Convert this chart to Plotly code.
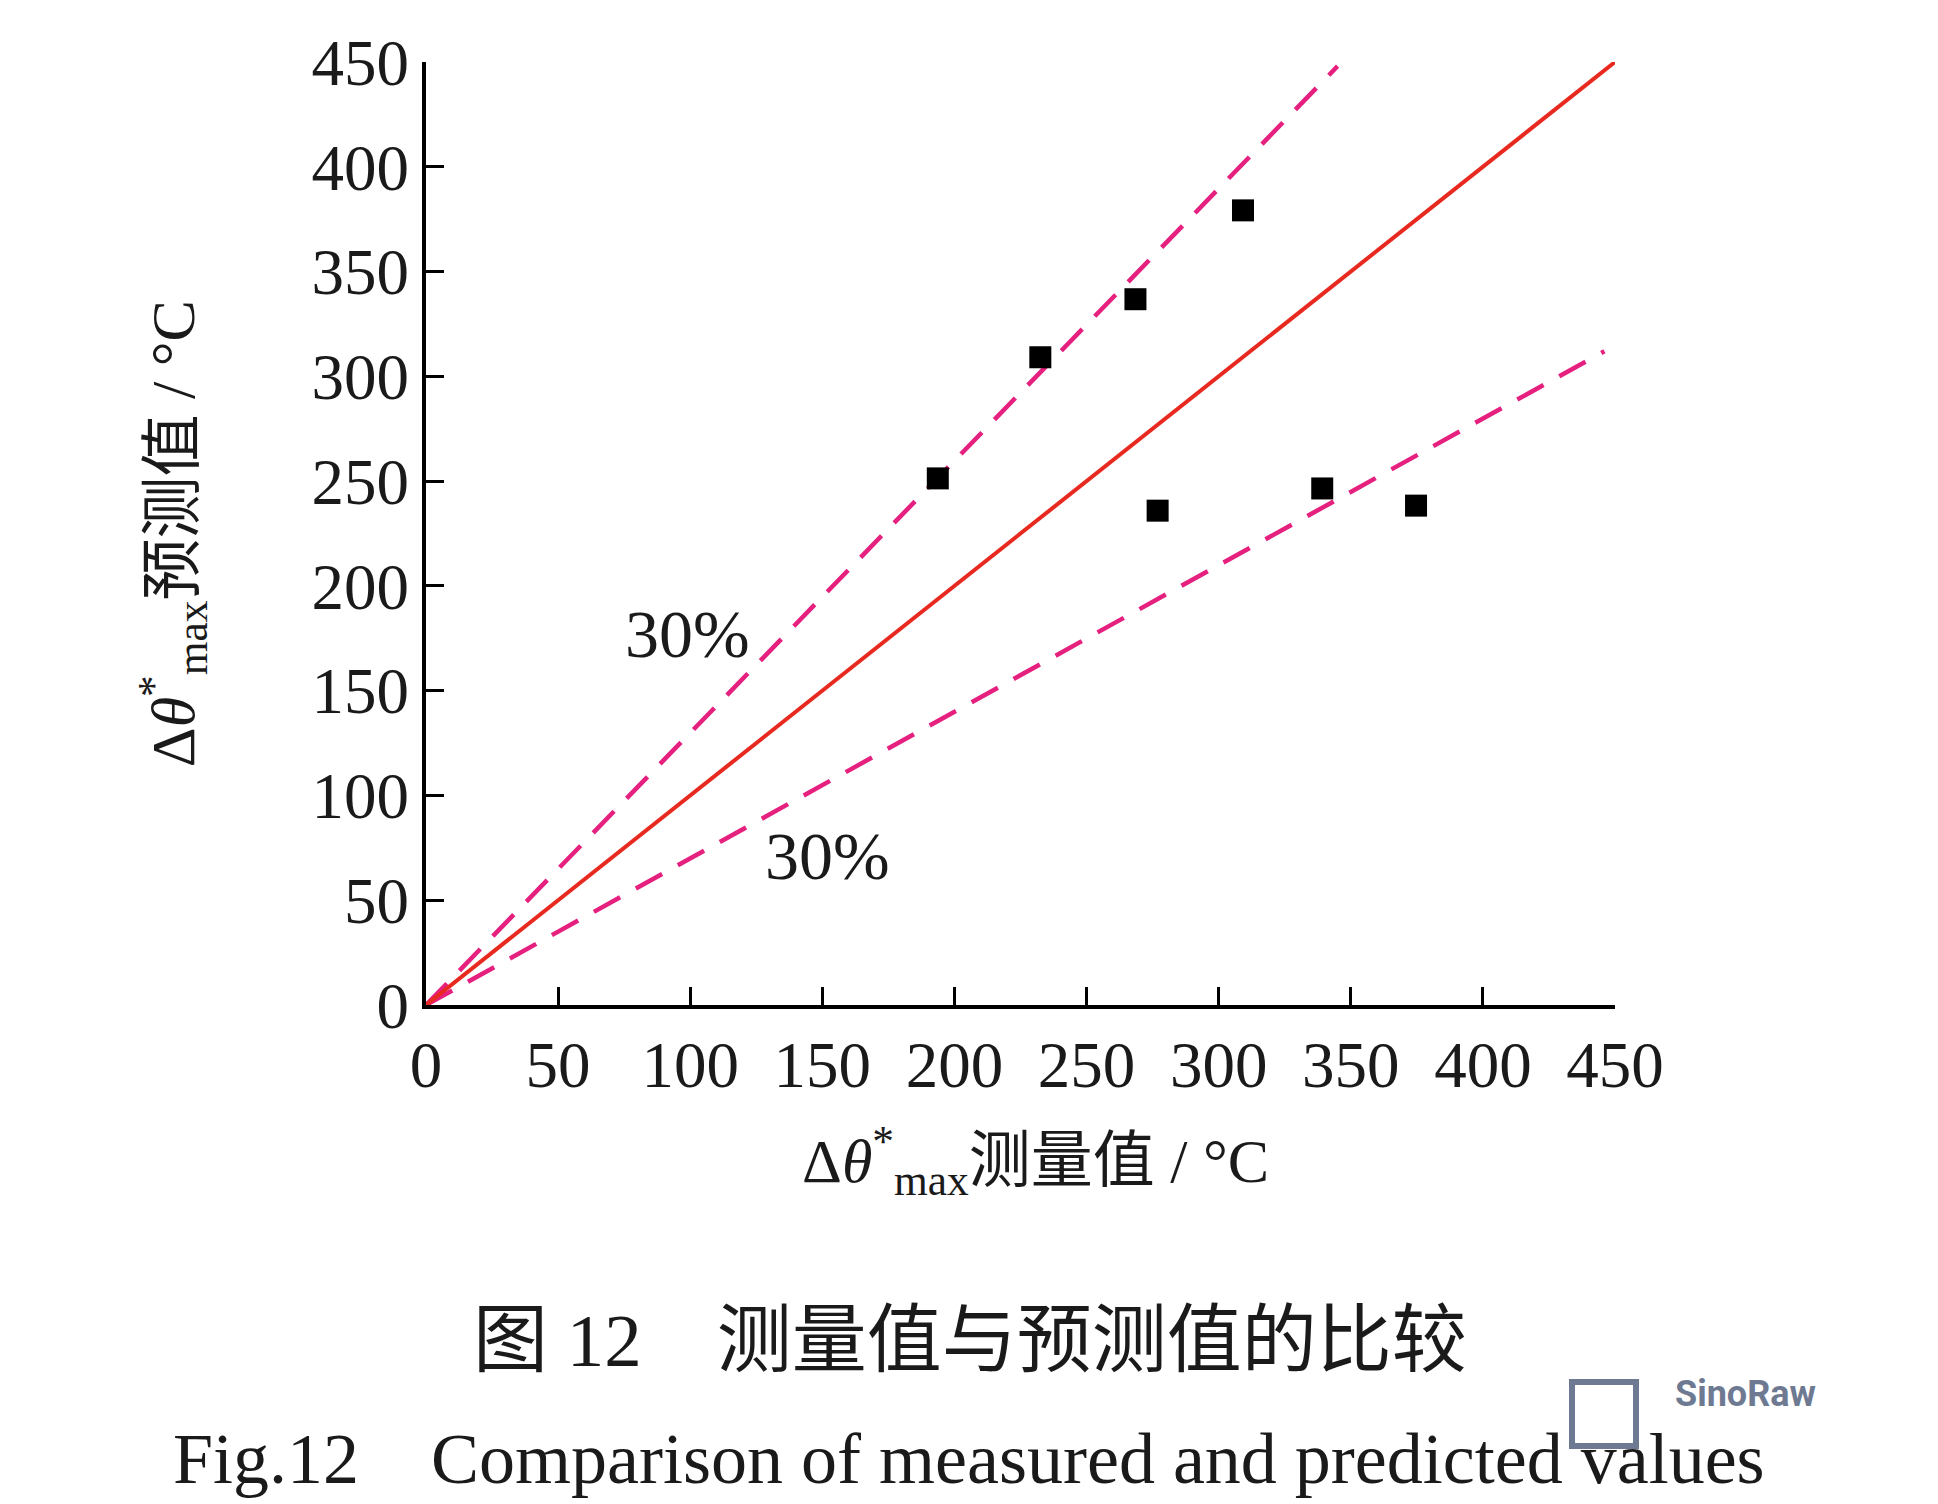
import plotly.graph_objects as go

# measured vs predicted values (°C)
measured = [193.7, 232.5, 268.5, 309.2, 276.9, 339.2, 374.7]
predicted = [251.3, 309.1, 336.8, 379.2, 235.9, 246.5, 238.3]

# reference line and ±30% bounds (end points)
ref_x = [0, 450]
ref_y = [0, 450]
upper_x = [0, 345]
upper_y = [0, 448]
lower_x = [0, 446]
lower_y = [0, 312]

tick_vals = [0, 50, 100, 150, 200, 250, 300, 350, 400, 450]
tick_text = [str(v) for v in tick_vals]

serif = "Liberation Serif, Times New Roman, Noto Sans CJK SC, serif"
pink = "#e5207e"
red = "#e8291f"

fig = go.Figure()
fig.add_trace(go.Scatter(x=upper_x, y=upper_y, mode="lines",
                         line=dict(color=pink, width=4.5, dash="30px,18px"),
                         showlegend=False, hoverinfo="skip"))
fig.add_trace(go.Scatter(x=lower_x, y=lower_y, mode="lines",
                         line=dict(color=pink, width=4.5, dash="30px,18px"),
                         showlegend=False, hoverinfo="skip"))
fig.add_trace(go.Scatter(x=ref_x, y=ref_y, mode="lines",
                         line=dict(color=red, width=4),
                         showlegend=False, hoverinfo="skip"))
fig.add_trace(go.Scatter(x=measured, y=predicted, mode="markers",
                         marker=dict(symbol="square", size=22, color="black"),
                         showlegend=False))

axis_common = dict(
    range=[0, 450], tickmode="array", tickvals=tick_vals, ticktext=tick_text,
    showgrid=False, zeroline=False, showline=True, linecolor="black", linewidth=4,
    ticks="inside", ticklen=18, tickwidth=3, tickcolor="black",
    tickfont=dict(family=serif, size=65, color="#1a1a1a"),
)
fig.update_xaxes(**axis_common)
fig.update_yaxes(**axis_common)

annotations = [
    dict(text="30%", x=99, y=177, xref="x", yref="y", showarrow=False,
         font=dict(family=serif, size=68, color="#1a1a1a")),
    dict(text="30%", x=152, y=71, xref="x", yref="y", showarrow=False,
         font=dict(family=serif, size=68, color="#1a1a1a")),
    dict(text="Δ<i>θ</i><sup>*</sup><sub>max</sub>测量值 / °C", x=0.513, y=-0.165,
         xref="paper", yref="paper", showarrow=False, xanchor="center", yanchor="middle",
         font=dict(family=serif, size=62, color="#1a1a1a")),
    dict(text="Δ<i>θ</i><sup>*</sup><sub>max</sub>预测值 / °C", x=-0.213, y=0.50,
         xref="paper", yref="paper", showarrow=False, xanchor="center", yanchor="middle",
         textangle=-90, font=dict(family=serif, size=62, color="#1a1a1a")),
    dict(text="图 12　测量值与预测值的比较", x=0.4575, y=-0.356,
         xref="paper", yref="paper", showarrow=False, xanchor="center", yanchor="middle",
         font=dict(family=serif, size=75, color="#1a1a1a")),
    dict(text="Fig.12　Comparison of measured and predicted values", x=0.4567, y=-0.481,
         xref="paper", yref="paper", showarrow=False, xanchor="center", yanchor="middle",
         font=dict(family=serif, size=72, color="#1a1a1a")),
    dict(text="<b>SinoRaw</b>", x=1.11, y=-0.412, xref="paper", yref="paper",
         showarrow=False, xanchor="center", yanchor="middle",
         font=dict(family="Roboto, sans-serif", size=36, color="#6e7a92")),
]

fig.update_layout(
    width=1938, height=1504,
    margin=dict(l=426, r=323, t=62, b=499),
    paper_bgcolor="white", plot_bgcolor="white",
    annotations=annotations,
    showlegend=False,
)
fig.add_shape(type="rect", xref="paper", yref="paper",
              x0=(1572 - 426) / 1189, x1=(1636 - 426) / 1189,
              y0=(1005 - 1446) / 943, y1=(1005 - 1382) / 943,
              line=dict(color="#6e7a92", width=6), fillcolor="rgba(0,0,0,0)")

fig.write_html("out.html")
